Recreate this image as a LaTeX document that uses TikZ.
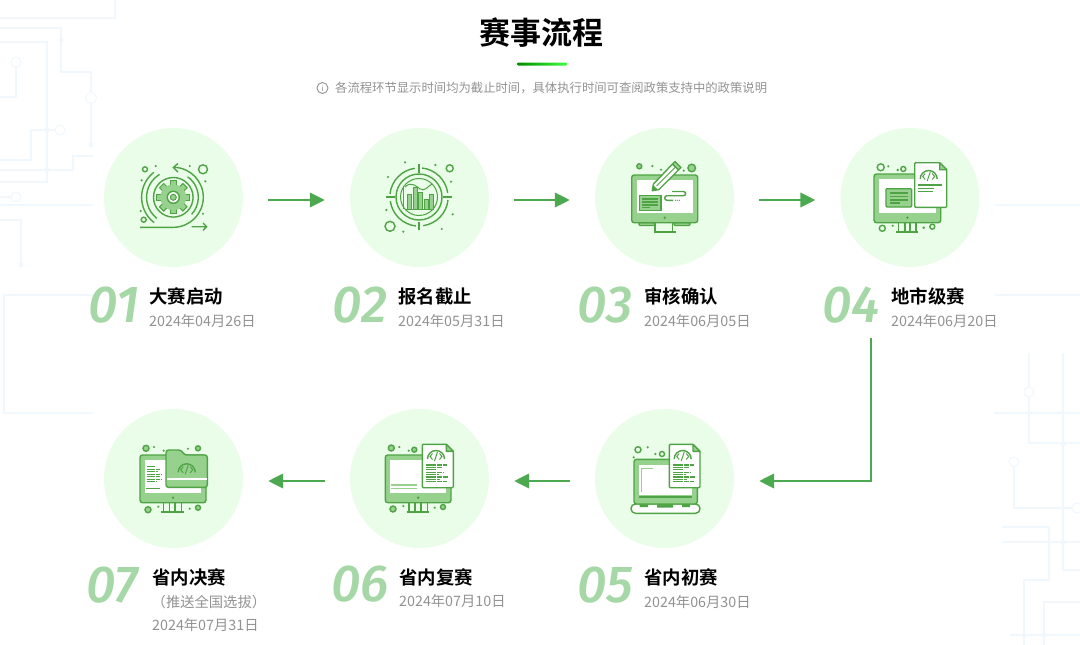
\documentclass[tikz,border=0pt]{standalone}
\usepackage{fontspec}
\usepackage{tikz}
\usetikzlibrary{arrows.meta,calc}
\setmainfont{Noto Sans CJK SC}[BoldFont=* Bold]
\newfontfamily\numfont{Fira Sans}[ItalicFont=* Medium Italic]
\definecolor{flowgreen}{HTML}{4CA94F}
\definecolor{icongreen}{HTML}{4FA344}
\definecolor{iconlight}{HTML}{97D18E}
\definecolor{circlegreen}{HTML}{E9FDE9}
\definecolor{numgreen}{HTML}{A6D7A6}
\definecolor{dategray}{HTML}{929292}
\definecolor{bgline}{HTML}{F1F8FD}
\tikzset{
    stepcircle/.style={circle,fill=circlegreen,minimum size=139pt,inner sep=0pt},
    flowarrow/.style={draw=flowgreen,line width=2.4pt,-{Triangle[length=15pt,width=14.5pt,fill=flowgreen]},shorten <=25pt,shorten >=25pt},
    stepnum/.style={inner sep=0pt,text=numgreen,font=\numfont\itshape\fontsize{52}{52}\selectfont},
    steptitle/.style={anchor=west,inner sep=0pt,font=\bfseries\fontsize{18.4}{20}\selectfont},
    stepdate/.style={anchor=west,inner sep=0pt,text=dategray,font=\fontsize{14.3}{16}\selectfont},
    icline/.style={draw=icongreen,line width=1.4pt},
    icthin/.style={draw=icongreen,line width=1pt},
    icfill/.style={draw=icongreen,fill=iconlight,line width=1.4pt},
    icdot/.style={fill=icongreen},
    bgtrace/.style={draw=bgline,line width=1.1pt},
}
% monitor: left, top, right, bottom of the case
\newcommand{\monitorcase}[4]{
    \draw[icfill,rounded corners=2.5pt] (#1,#2) rectangle (#3,#4);
    \fill[white] (#1+5,#2+5) rectangle (#3-5,#4-10);
    \fill[icongreen] ({(#1+#3)/2},#4-5) circle (1.4);
}
% stand with four uprights
\newcommand{\monitorstand}[5]{
    \draw[icline] (#1,#5)--++(0,9) (#2,#5)--++(0,9) (#3,#5)--++(0,9) (#4,#5)--++(0,9);
    \draw[icongreen,line width=1.8pt] (#1-2,#5+9.3)--(#4+2,#5+9.3);
}
% file sheet: left, top, right, bottom
\newcommand{\codesheet}[4]{
    \draw[icline,fill=white,line join=round,rounded corners=1pt] (#1,#2)--(#3-7,#2)--(#3,#2+7)--(#3,#4)--(#1,#4)--cycle;
    \draw[icline,fill=iconlight,line join=round] (#3-7,#2)--(#3-7,#2+7)--(#3,#2+7)--cycle;
}
% half ring with the code mark in it
\newcommand{\codemark}[2]{
    \draw[icline] (#1-8.5,#2+4) arc (180:360:8.5);
    \draw[icthin] (#1-3.5,#2-1.5)--(#1-6,#2+1.5)--(#1-3.5,#2+4.5) (#1+3.5,#2-1.5)--(#1+6,#2+1.5)--(#1+3.5,#2+4.5) (#1+1.5,#2-3)--(#1-1.5,#2+6);
}
% text rows on a sheet
\newcommand{\coderows}[2]{
    \foreach \r/\b in {0/21,1/16,2/11,3/18,4/13,5/23,6/14,7/21}{
        \draw[icongreen,line width=1.2pt,dash pattern=on 5pt off 0.8pt] (#1,#2+\r*2.4)--++(\b,0);
    }
}
\begin{document}
\begin{tikzpicture}[x=1pt,y=-1pt]
    \useasboundingbox (0,0) rectangle (1080,645);
    % circuit traces behind everything, top left
    \draw[bgtrace] (0,18)--(115,18)--(115,0);
    \draw[bgtrace] (0,28)--(61,28)--(61,72)--(91,72)--(91,93) (91,103)--(91,145);
    \draw[bgtrace] (0,42)--(47,42)--(47,182)--(0,182);
    \draw[bgtrace] (16,67)--(16,97)--(0,97) (0,160)--(31,160)--(31,130)--(55,130);
    \draw[bgtrace] (0,170)--(73,170)--(73,156)--(93,156) (0,197)--(11,197);
    \draw[bgtrace] (0,205)--(93,205) (0,220)--(21,220)--(21,265);
    \draw[bgtrace] (93,295)--(4,295)--(4,413)--(93,413);
    \draw[bgtrace] (16,62) circle (5) (91,98) circle (5.5) (60,130) circle (5) (16,197) circle (5);
    \fill[bgline] (61,40) circle (2.5) (91,145) circle (2.5) (47,130) circle (2.5) (47,170) circle (2.5) (21,265) circle (2.5);
    % right side
    \draw[bgtrace] (995,205)--(1080,205) (995,295)--(1080,295);
    \draw[bgtrace] (1029,353)--(1029,387) (1029,397)--(1029,443)--(1080,443);
    \draw[bgtrace] (994,413)--(1080,413) (1063,353)--(1063,570)--(1080,570);
    \draw[bgtrace] (1014,467)--(1014,508)--(1072,508);
    \draw[bgtrace] (1002,527)--(1049,527)--(1049,580)--(1024,580)--(1024,645);
    \draw[bgtrace] (1002,542)--(1080,542) (1010,635)--(1080,635) (1044,645)--(1044,602)--(1080,602);
    \draw[bgtrace] (1029,392) circle (5) (1014,462) circle (5) (1077,508) circle (5);
    \fill[bgline] (1063,444) circle (2.5) (1063,542) circle (2.5) (1024,635) circle (2.5) (1044,635) circle (2.5);

    % heading
    \node[inner sep=0pt,font=\bfseries\fontsize{31}{34}\selectfont] (title) at (541.5,33) {赛事流程};
    \shade[left color=black!10!green!60!black,right color=green!75!white,rounded corners=1pt] (517,62.5) rectangle (567,65.5);
    \node[anchor=west,inner sep=0pt,text=dategray,font=\fontsize{12.34}{14}\selectfont] (note) at (335,88) {各流程环节显示时间均为截止时间，具体执行时间可查阅政策支持中的政策说明};
    \node[circle,draw=dategray,line width=0.9pt,inner sep=0pt,minimum size=11pt,text=dategray,font=\fontsize{8}{8}\selectfont] (info) at (322.5,88) {i};

    % step circles
    \node[stepcircle] (c1) at (173.5,197.5) {};
    \node[stepcircle] (c2) at (419.5,197.5) {};
    \node[stepcircle] (c3) at (664.5,197.5) {};
    \node[stepcircle] (c4) at (910,197.5) {};
    \node[stepcircle] (c5) at (664.5,478.5) {};
    \node[stepcircle] (c6) at (419.5,478.5) {};
    \node[stepcircle] (c7) at (173.5,478.5) {};

    % connectors
    \draw[flowarrow] ([yshift=-2.5pt]c1.east)--([yshift=-2.5pt]c2.west);
    \draw[flowarrow] ([yshift=-2.5pt]c2.east)--([yshift=-2.5pt]c3.west);
    \draw[flowarrow] ([yshift=-2.5pt]c3.east)--([yshift=-2.5pt]c4.west);
    \coordinate (drop) at (871,338);
    \draw[flowarrow,shorten <=0pt] (drop) |- ([yshift=-2.5pt]c5.east);
    \draw[flowarrow] ([yshift=-2.5pt]c5.west)--([yshift=-2.5pt]c6.east);
    \draw[flowarrow] ([yshift=-2.5pt]c6.west)--([yshift=-2.5pt]c7.east);

    % numbers and labels
    \node[stepnum] (n1) at (114,305) {01};
    \node[stepnum] (n2) at (360,305) {02};
    \node[stepnum] (n3) at (605,305) {03};
    \node[stepnum] (n4) at (851,305) {04};
    \node[stepnum] (n5) at (605.5,585) {05};
    \node[stepnum] (n6) at (360,584) {06};
    \node[stepnum] (n7) at (112,585) {07};
    \node[steptitle] (t1) at (149,296) {大赛启动};
    \node[steptitle] (t2) at (398,296) {报名截止};
    \node[steptitle] (t3) at (644,296) {审核确认};
    \node[steptitle] (t4) at (891,296) {地市级赛};
    \node[steptitle] (t5) at (644,577) {省内初赛};
    \node[steptitle] (t6) at (399,577) {省内复赛};
    \node[steptitle] (t7) at (152,577) {省内决赛};
    \node[stepdate] (d1) at (149,321) {2024年04月26日};
    \node[stepdate] (d2) at (398,321) {2024年05月31日};
    \node[stepdate] (d3) at (644,321) {2024年06月05日};
    \node[stepdate] (d4) at (891,321) {2024年06月20日};
    \node[stepdate] (d5) at (644,602) {2024年06月30日};
    \node[stepdate] (d6) at (399,601) {2024年07月10日};
    \node[stepdate] (d7) at (152,625) {2024年07月31日};
    \node[stepdate] (s7) at (151.5,602.5) {（推送全国选拔）};

    % icon 1, gear
    \foreach \a in {0,45,...,315}{
        \draw[icfill,line width=1pt,rotate around={\a:(173.3,197.3)}] (170.3,197.3)--(170.3,180.8)--(176.3,180.8)--(176.3,197.3);
    }
    \fill[iconlight] (173.3,197.3) circle (13);
    \draw[icline,fill=white] (173.3,197.3) circle (6);
    \draw[icfill,line width=1pt] (173.3,197.3) circle (3);
    \draw[icline] (173.3,197.3) circle (19.8);
    \draw[icline] (140,227.3)--(173.3,227.3) arc (90:-88:30);
    \draw[icline] (178,163.5)--(173.3,167.5)--(178,172);
    \draw[icline] (173.3,197.3) ++(232:31.7) arc (232:127:31.7);
    \draw[icline] (173.3,197.3) ++(239:26.7) arc (239:128:26.7);
    \draw[icline] (173.3,197.3) ++(-55:25) arc (-55:43:25);
    \draw[icline] (191.7,226.7)--(206.7,226.7) (203,223)--(206.7,226.7)--(203,230.5);
    \draw[icline] (145,169.3) circle (2.5) (203,169.3) circle (4.5) (143.7,219.7) circle (2.5);
    \fill[icdot] (155.7,166) circle (1.2) (141.7,180.3) circle (1.2) (189.7,166) circle (1.2) (205.3,181.3) circle (1.2) (140.7,211) circle (1.2) (203,213.7) circle (1.2);

    % icon 2, chart
    \draw[icline] (419,164)--(419,173) (419,221.7)--(419,230) (385.7,197)--(395,197) (442.7,197)--(452.3,197);
    \draw[icline] (422,168) arc (-84:-8:29) (448,200) arc (6:82:29) (416,226) arc (96:172:29) (390,194) arc (186:262:29);
    \draw[icline] (419,197) circle (23);
    \draw[icthin] (419,197) circle (18.5);
    \foreach \x/\y in {407.5/194,413/187,418.5/192,424/199,429/194}{
        \fill[iconlight] (\x,\y) rectangle (\x+4.2,209);
        \draw[icthin] (\x,\y) rectangle (\x+4.2,209);
    }
    \draw[icthin] (405,209.3)--(434,209.3) (403.5,186)--(403.5,209);
    \draw[icthin] (405,187) .. controls (411,181) and (416,186) .. (420,189) .. controls (425,192) and (428,186) .. (432,184);
    \draw[icline] (449.7,168.3) circle (3.5) (390,226.3) circle (5);
    \fill[icdot] (405,162.3) circle (1.2) (435.3,165) circle (1.2) (388,177) circle (1.2) (451,181.7) circle (1.2) (386.3,210) circle (1.2) (452.7,214.3) circle (1.2) (441.7,229) circle (1.2) (403.3,231.7) circle (1.2);

    % icon 3, pencil on screen
    \draw[icfill,rounded corners=1pt] (639,222.7) rectangle (655,225.5) (674,222.7) rectangle (690,225.5);
    \draw[icline] (655,222.7)--(655,231.7) (672.7,222.7)--(672.7,231.7);
    \draw[icongreen,line width=1.8pt] (654,232)--(675.5,232);
    \monitorcase{631.7}{175}{697.7}{222.7}
    \draw[icfill] (639.3,195.3) rectangle (661,210.3);
    \draw[icline] (642,199)--(658,199) (642,202)--(658,202) (642,205)--(658,205) (642,207.5)--(650,207.5);
    \draw[icline] (672,191.5)--(683.5,191.5) arc (-90:90:2.1) -- (667,195.7) arc (-90:-270:2.3) -- (673,200.3);
    \fill[icdot] (675.5,200.3) circle (0.7) (677.5,200.3) circle (0.7) (679.5,200.3) circle (0.7);
    \draw[icline,fill=white,line join=round] (652.3,190.7)--(653.5,184)--(672.5,164)--(678.5,170)--(659,189.5)--cycle;
    \draw[icfill,line join=round] (672.5,164)--(675,161.5)--(681,167.5)--(678.5,170)--cycle;
    \draw[icthin] (656.5,186)--(675.5,167);
    \fill[icongreen] (652.3,190.7)--(653,185)--(658,189.8)--cycle;
    \draw[icfill] (639.3,166.3) circle (2.5) (691.7,168) circle (3.8);
    \fill[icdot] (652.3,166) circle (1.2) (661,169.7) circle (1.2) (683.7,170.7) circle (1.2);

    % icon 4, monitor and sheet
    \monitorstand{898.3}{905}{910}{916}{222.7}
    \monitorcase{874}{174}{940.7}{222.7}
    \draw[icfill,rounded corners=1pt] (886,188.7) rectangle (911.7,207);
    \draw[icline] (890,193)--(908,193) (890,196.5)--(908,196.5) (890,200)--(908,200) (890,203)--(900,203);
    \codesheet{914.7}{162.7}{946.7}{207.3}
    \codemark{928.7}{175}
    \draw[icline] (918.3,185)--(942,185) (918.3,188.3)--(934,188.3) (918.3,191.3)--(933,191.3);
    \draw[icline] (880.7,167.3) circle (3.5) (903.3,169) circle (2.5) (882.3,228.3) circle (3) (932.3,226.7) circle (2.5);
    \fill[icdot] (888.3,166.3) circle (1.2) (897.7,170) circle (1.4) (892.7,225.7) circle (1.2) (923.7,227.7) circle (1.4);

    % icon 5, laptop and sheet
    \draw[icline,fill=white,rounded corners=4.5pt] (631,504) rectangle (700,513.3);
    \fill[icongreen] (639.5,504) rectangle (648,507) (657,504) rectangle (673,507.5) (682,504) rectangle (690,507);
    \draw[icfill,rounded corners=2.5pt] (634,459.3) rectangle (697.3,504);
    \fill[white] (639.3,465) rectangle (691.7,495);
    \draw[iconlight,line width=1pt] (641.7,491.7)--(641.7,468.3)--(652.7,468.3);
    \draw[icline] (639.3,497)--(691.7,497);
    \codesheet{669.3}{444.3}{700}{487.7}
    \codemark{682.7}{455}
    \coderows{672.5}{465}
    \draw[icline] (638,449.7) circle (3) (662,454) circle (2.5);
    \fill[icdot] (647.7,447.3) circle (1.2) (655.3,454) circle (1.2) (633.7,457.3) circle (1.2);

    % icon 6, monitor and sheet
    \monitorstand{409}{415}{421}{427.3}{502.7}
    \monitorcase{385.3}{455}{451}{502.7}
    \draw[iconlight,line width=1.2pt] (390.7,485)--(417.3,485) (390.7,488.3)--(417.3,488.3);
    \codesheet{422.3}{444.3}{453.3}{487.7}
    \codemark{436}{455}
    \coderows{425.5}{465}
    \draw[icfill] (391.3,448) circle (3) (414.3,449.7) circle (2.5) (393,509) circle (3) (443,507) circle (2.5);
    \fill[icdot] (399.3,447) circle (1.2) (408.7,450.7) circle (1.2) (403.3,506) circle (1.2) (434.7,507.7) circle (1.2);

    % icon 7, monitor and folder
    \monitorstand{163.3}{169.3}{175}{181.7}{502.7}
    \monitorcase{140}{455}{206}{502.7}
    \foreach \r/\b in {0/9,1/13,2/11,3/15,4/13,5/15,6/10}{
        \draw[icongreen,line width=1.2pt,dash pattern=on 4pt off 0.7pt] (146.7,466.7+\r*2.5)--++(\b,0);
    }
    \draw[icongreen,line width=1pt] (146,488.5)--(160,488.5);
    \draw[icfill,rounded corners=2.5pt] (166,487.3)--(166,450)--(181,450)--(184.5,455)--(207.3,455)--(207.3,487.3)--cycle;
    \fill[white] (166.8,477.5) rectangle (206.5,480);
    \codemark{186.7}{468.3}
    \draw[icfill] (146,448.3) circle (3) (198,448.3) circle (2.5) (148,509.7) circle (3) (198,507.7) circle (2.5);
    \fill[icdot] (154,447) circle (1.2) (163.7,450.7) circle (1.2) (188,448.7) circle (1.2) (158.3,506.7) circle (1.2) (189.7,508.7) circle (1.2);
\end{tikzpicture}
\end{document}
